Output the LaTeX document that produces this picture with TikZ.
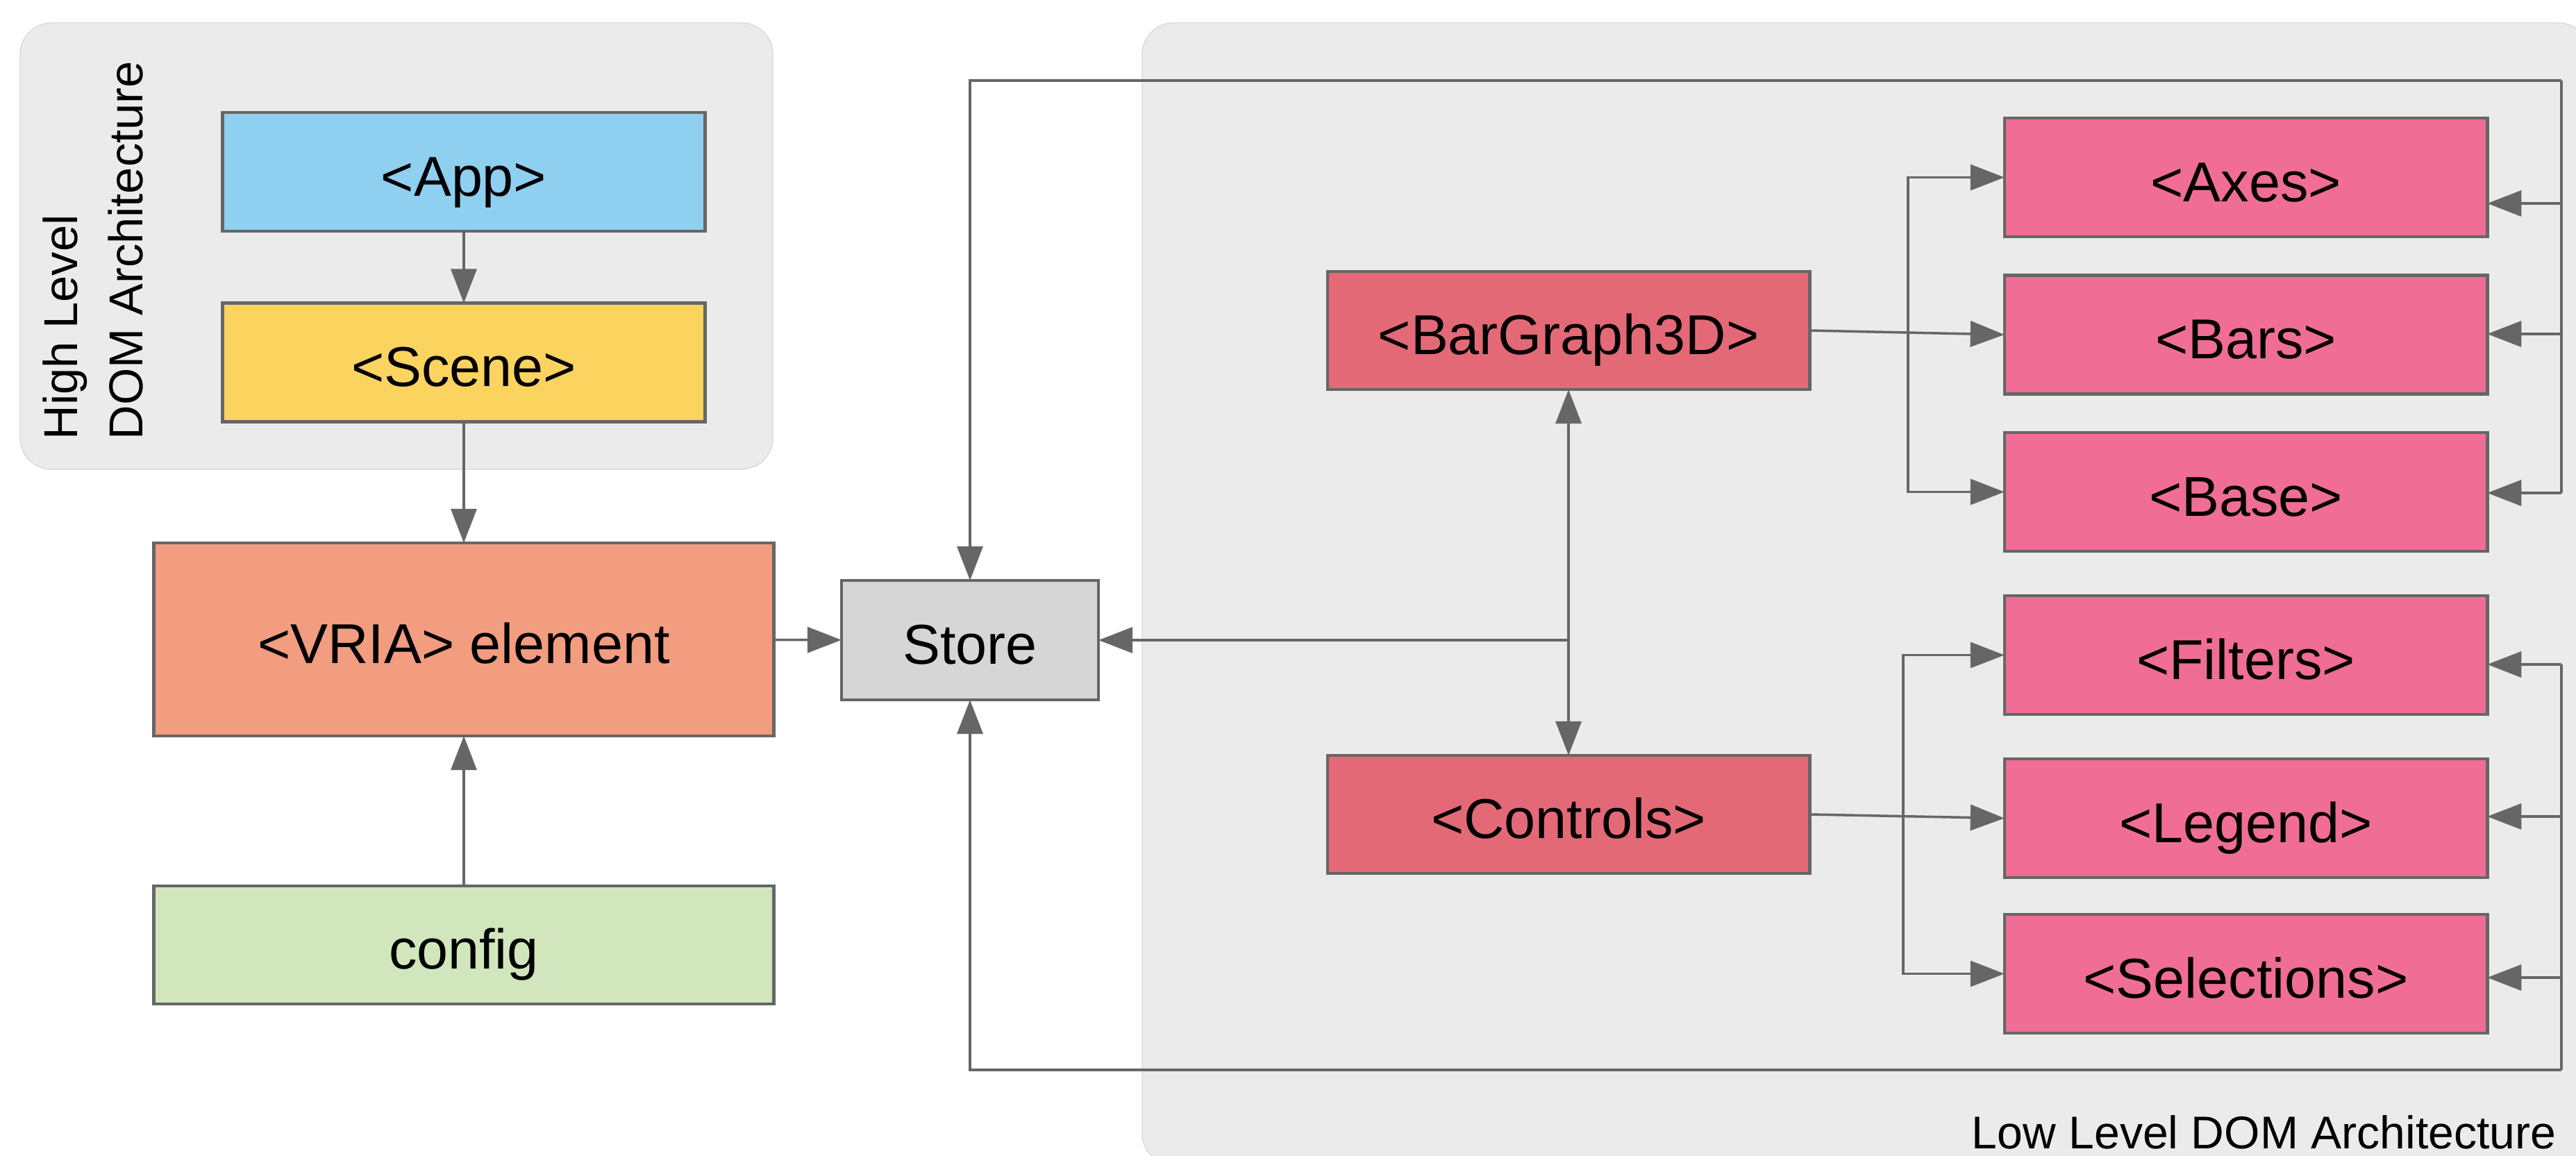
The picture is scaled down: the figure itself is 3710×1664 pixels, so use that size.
\documentclass[tikz,border=0pt]{standalone}
\usepackage{fontspec}
\setmainfont{Liberation Sans}
\usetikzlibrary{arrows.meta}

\definecolor{edge}{HTML}{666666}
\definecolor{groupbg}{HTML}{EBEBEB}
\definecolor{groupedge}{HTML}{D9D9D9}
\definecolor{appblue}{HTML}{8FCFF0}
\definecolor{sceneyellow}{HTML}{FBD35F}
\definecolor{vriasalmon}{HTML}{F29C80}
\definecolor{configgreen}{HTML}{D2E6BD}
\definecolor{storegray}{HTML}{D6D6D6}
\definecolor{parentred}{HTML}{E46977}
\definecolor{childpink}{HTML}{F06D96}

\begin{document}
\begin{tikzpicture}[x=0.01cm, y=-0.01cm,
  box/.style={draw=edge, line width=1.3pt, inner sep=0pt, outer sep=0pt,
    minimum width=6.95cm, minimum height=1.71cm,
    text height=0.69cm, text depth=0pt,
    font=\fontsize{23}{28}\selectfont},
  wire/.style={draw=edge, line width=1pt},
  arr/.style={wire, -{Triangle[length=4.9mm,width=3.7mm]}},
  biarr/.style={wire, {Triangle[length=4.9mm,width=3.7mm]}-{Triangle[length=4.9mm,width=3.7mm]}},
  group/.style={fill=groupbg, draw=groupedge, line width=0.4pt, rounded corners=0.45cm}]

  \useasboundingbox (0,0) rectangle (3710,1664);

  % group panels
  \draw[group] (29,33) rectangle (1113,676);
  \begin{scope}
    \clip (0,0) rectangle (3710,1664);
    \draw[group] (1645,33) rectangle (3730,1678);
  \end{scope}

  \node[rotate=90, anchor=north west, align=left, inner sep=0pt,
        font=\fontsize{19.5}{26.7}\selectfont] (hltitle) at (61,634)
        {High Level\\DOM Architecture};
  \node[anchor=base east, inner sep=0pt, font=\fontsize{18.8}{22}\selectfont]
        (lltitle) at (3682,1654) {Low Level DOM Architecture};

  % high level components
  \node[box, fill=appblue] (app) at (668,247.5) {<App>};
  \node[box, fill=sceneyellow] (scene) at (668,522) {<Scene>};
  \node[box, fill=vriasalmon, minimum width=8.93cm, minimum height=2.78cm]
        (vria) at (668,921) {<VRIA> element};
  \node[box, fill=configgreen, minimum width=8.93cm, minimum height=1.70cm]
        (config) at (668,1361) {config};
  \node[box, fill=storegray, minimum width=3.70cm, minimum height=1.72cm]
        (store) at (1397,922) {Store};

  % low level components
  \node[box, fill=parentred, minimum width=6.94cm, minimum height=1.70cm]
        (bar3d) at (2259,476) {<BarGraph3D>};
  \node[box, fill=parentred, minimum width=6.94cm, minimum height=1.70cm]
        (controls) at (2259,1173) {<Controls>};

  \node[box, fill=childpink] (axes) at (3234.5,255.5) {<Axes>};
  \node[box, fill=childpink] (bars) at (3234.5,482) {<Bars>};
  \node[box, fill=childpink] (base) at (3234.5,708.5) {<Base>};
  \node[box, fill=childpink] (filters) at (3234.5,943.5) {<Filters>};
  \node[box, fill=childpink] (legend) at (3234.5,1178.5) {<Legend>};
  \node[box, fill=childpink] (selections) at (3234.5,1402.5) {<Selections>};

  % high level flow
  \draw[arr] (app) -- (scene);
  \draw[arr] (scene) -- (vria);
  \draw[arr] (config) -- (vria);
  \draw[arr] (vria) -- (store);

  % store <-> components
  \draw[biarr] (bar3d) -- (controls);
  \coordinate (hub) at (2259,922);
  \draw[arr] (hub) -- (store);

  % fan-out from BarGraph3D
  \coordinate (fanA) at (2748,478);
  \draw[arr] (bar3d.east) -- (bars.west);
  \draw[arr] (fanA) |- (axes.west);
  \draw[arr] (fanA) |- (base.west);

  % fan-out from Controls
  \coordinate (fanB) at (2741,1173);
  \draw[arr] (controls.east) -- (legend.west);
  \draw[arr] (fanB) |- (filters.west);
  \draw[arr] (fanB) |- (selections.west);

  % return bus (top)
  \coordinate (retA) at (3689,116);
  \coordinate (inAxes) at (3689,293);
  \coordinate (inBars) at (3689,481);
  \coordinate (inBase) at (3689,710);
  \draw[wire] (retA) -- (inBase);
  \draw[arr] (retA) -| (store.north);
  \draw[arr] (inAxes) -- (inAxes -| axes.east);
  \draw[arr] (inBars) -- (inBars -| bars.east);
  \draw[arr] (inBase) -- (inBase -| base.east);

  % return bus (bottom)
  \coordinate (inFilters) at (3689,957);
  \coordinate (inLegend) at (3689,1176);
  \coordinate (inSel) at (3689,1408);
  \coordinate (retB) at (3689,1541);
  \draw[wire] (inFilters) -- (retB);
  \draw[arr] (retB) -| (store.south);
  \draw[arr] (inFilters) -- (inFilters -| filters.east);
  \draw[arr] (inLegend) -- (inLegend -| legend.east);
  \draw[arr] (inSel) -- (inSel -| selections.east);
\end{tikzpicture}
\end{document}
